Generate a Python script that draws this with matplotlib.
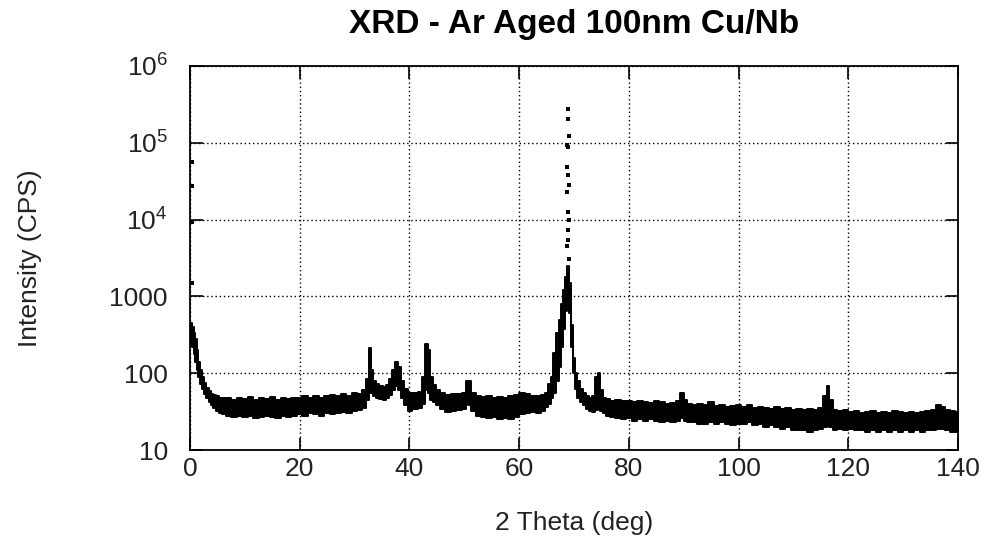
import math
import matplotlib
matplotlib.use("Agg")
import matplotlib.pyplot as plt
from matplotlib.ticker import FixedLocator, FuncFormatter

plt.rcParams['font.family'] = ['Liberation Sans', 'DejaVu Sans']
plt.rcParams['mathtext.default'] = 'regular'

# diffraction band: 2-theta (deg), lower / upper edge of the dot cloud (CPS)
two_theta = [0.2, 0.5, 0.8, 1.1, 1.4, 1.7, 2.0, 2.4, 2.8, 3.2, 3.6, 4.0, 4.5, 5.0, 5.5, 6.0,
             7, 8, 9, 10, 11, 12, 13, 14, 15, 16, 17, 18, 19, 20, 21, 22, 23, 24, 25, 26, 27,
             28, 29, 30, 31, 31.8, 32.4, 32.8, 33.2, 33.6, 34.2, 34.8, 35.4, 36.0, 36.6, 37.2,
             37.7, 38.2, 38.7, 39.3, 40, 41, 42, 42.7, 43.1, 43.5, 44.0, 44.6, 45.2, 46, 47, 48,
             49, 50, 50.5, 51, 51.6, 52.5, 53.5, 54.5, 55.5, 56.5, 57.5, 58.5, 59.5, 60.5, 61.5,
             62.5, 63.5, 64.3, 65.0, 65.6, 66.0, 66.5, 67.0, 67.4, 67.8, 68.2, 68.6, 68.9, 69.2,
             69.6, 69.9, 70.3, 70.8, 71.3, 71.8, 72.4, 73.0, 73.6, 74.2, 74.5, 74.9, 75.5, 76.2,
             77, 78, 79, 80, 81, 82, 83, 84, 85, 86, 87, 88, 89, 89.7, 90.3, 91, 92, 93, 94, 95,
             96, 97, 98, 99, 100, 101, 102, 103, 104, 105, 106, 107, 108, 109, 110, 111, 112, 113,
             114, 115, 115.8, 116.3, 116.8, 117.5, 118.5, 119.5, 120.5, 121.5, 122.5, 123.5,
             124.5, 125.5, 126.5, 127.5, 128.5, 129.5, 130.5, 131.5, 132.5, 133.5, 134.5, 135.5,
             136.5, 137.2, 138, 139, 140]
upper = [450, 400, 330, 280, 200, 140, 110, 88, 75, 65, 58, 54, 52, 50, 48, 47,
         47, 45, 48, 46, 49, 45, 48, 46, 49, 45, 47, 46, 48, 47, 50, 48, 51, 48, 50, 52, 50,
         53, 51, 55, 54, 60, 85, 210, 110, 78, 72, 68, 66, 70, 85, 110,
         138, 120, 80, 62, 56, 55, 57, 90, 242, 200, 90, 70, 60, 55, 52, 54,
         53, 56, 80, 78, 55, 50, 49, 50, 48, 49, 48, 50, 52, 55, 54,
         50, 50, 52, 56, 72, 90, 185, 330, 500, 800, 1200, 1800, 2500, 1500,
         420, 160, 100, 80, 62, 55, 50, 48, 50, 90, 100, 60, 48, 46,
         44, 45, 44, 43, 42, 44, 42, 41, 43, 42, 40, 41, 44, 55, 45, 40, 39, 40, 38, 42,
         37, 38, 36, 37, 38, 36, 39, 35, 36, 35, 34, 36, 34, 35, 33, 34, 33, 34,
         33, 35, 50, 68, 45, 33, 32, 33, 31, 32, 30, 31,
         32, 30, 31, 30, 32, 31, 30, 31, 30, 31, 32, 33,
         38, 36, 33, 32, 31]
lower = [250, 220, 180, 140, 110, 90, 72, 62, 53, 47, 42, 38, 35, 32, 30, 29,
         28, 27, 28, 27, 28, 26, 27, 28, 27, 26, 28, 27, 28, 29, 28, 30, 29, 28, 30, 29, 30,
         31, 30, 32, 33, 35, 45, 55, 55, 50, 48, 46, 45, 47, 52, 60,
         68, 60, 48, 38, 32, 34, 35, 40, 60, 55, 45, 42, 38, 34, 31, 32,
         33, 34, 40, 38, 32, 28, 27, 26, 27, 25, 26, 25, 27, 29, 30,
         31, 30, 32, 36, 40, 48, 55, 80, 120, 220, 380, 650, 900, 600,
         220, 100, 62, 48, 42, 38, 34, 32, 31, 33, 34, 32, 30, 28,
         27, 26, 25, 26, 24, 25, 24, 25, 24, 23, 24, 23, 24, 26, 24, 23, 23, 22, 22, 23,
         22, 23, 22, 21, 22, 22, 23, 21, 22, 20, 21, 20, 19, 20, 18, 18, 18, 17,
         18, 19, 20, 22, 20, 18, 19, 18, 19, 18, 18, 17,
         18, 17, 18, 17, 18, 17, 18, 17, 18, 17, 18, 18,
         19, 19, 18, 17, 17]

# isolated counts near the direct beam and at the top of the main reflection
spike_theta = [0.1, 0.35, 0.1, 0.35, 0.1, 0.35, 0.1, 0.35]
spike_cps = [55800, 55800, 27100, 27100, 9180, 9180, 1510, 1510]
peak_theta = [68.9, 68.9, 69.0, 68.8, 68.9, 68.8, 68.9, 69.0, 68.8, 68.9, 69.0, 68.9,
              68.9, 68.8, 69.0, 68.9]
peak_cps = [276000, 204000, 122000, 95000, 87000, 49000, 38600, 28500, 22600, 12400,
            10000, 7400, 5500, 4470, 3030, 2240]

x_ticks = [0, 20, 40, 60, 80, 100, 120, 140]
y_ticks = [10, 100, 1000, 1e4, 1e5, 1e6]


def fmt_y(v, pos):
    if v <= 1000:
        return "%d" % v
    return r"$10^{%d}$" % round(math.log10(v))


fig = plt.figure(figsize=(9.89, 5.45), dpi=100)
ax = fig.add_axes([0.1921, 0.1743, 0.7766, 0.7046])

# plot band + isolated dots
ax.fill_between(two_theta, lower, upper, step='mid', color='black', lw=1.4, edgecolor='black')
ax.scatter(spike_theta, spike_cps, marker='s', s=8, color='black', lw=0)
ax.scatter(peak_theta, peak_cps, marker='s', s=8, color='black', lw=0)

ax.set_yscale('log')
ax.set_xlim(0, 140)
ax.set_ylim(10, 1e6)
ax.xaxis.set_major_locator(FixedLocator(x_ticks))
ax.yaxis.set_major_locator(FixedLocator(y_ticks))
ax.yaxis.set_minor_locator(FixedLocator([]))
ax.yaxis.set_major_formatter(FuncFormatter(fmt_y))

ax.grid(True, color='black', linestyle=(0, (1, 2)), lw=1)
ax.set_axisbelow(True)
for s in ax.spines.values():
    s.set_linewidth(1.3)
ax.tick_params(which='major', direction='in', length=9, width=1.2, top=True, right=True,
               labelsize=19, labelcolor='#222222')
ax.tick_params(axis='x', pad=5)
ax.tick_params(axis='y', pad=16)

ax.set_title("XRD - Ar Aged 100nm Cu/Nb", fontsize=24, fontweight='bold',
             y=1.109, pad=0, va='center')
ax.set_xlabel("2 Theta (deg)", fontsize=19, color='#222222')
ax.set_ylabel("Intensity (CPS)", fontsize=19, color='#222222')
ax.xaxis.set_label_coords(0.5, -0.158)
ax.yaxis.set_label_coords(-0.193, 0.5)

fig.savefig("out.png", dpi=100)
